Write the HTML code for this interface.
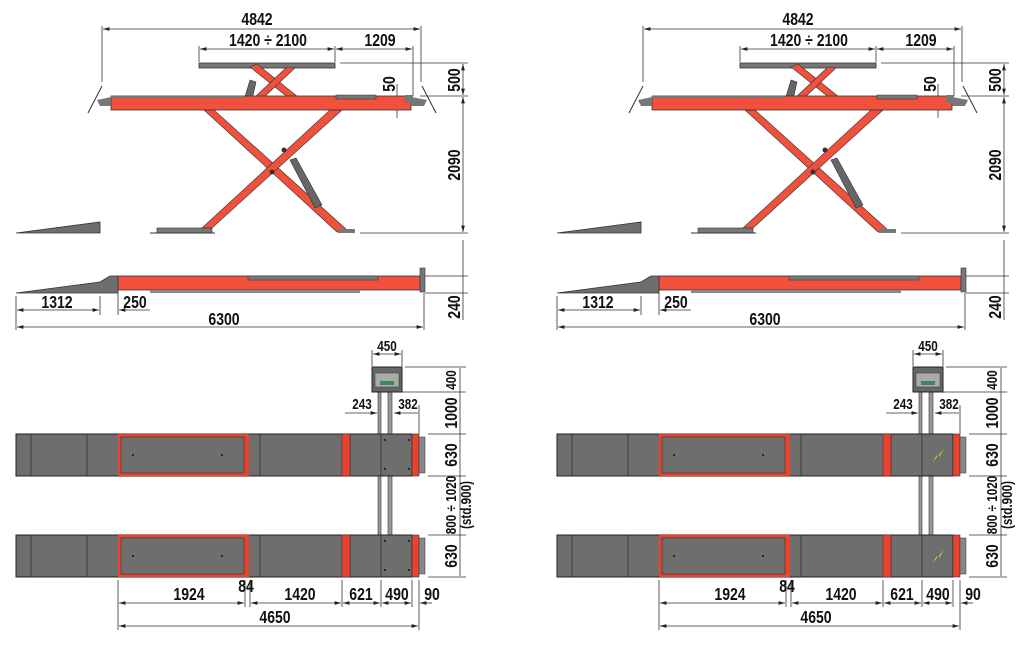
<!DOCTYPE html>
<html><head><meta charset="utf-8"><style>
html,body{margin:0;padding:0;background:#fff;}
svg{display:block}
text{font-family:"Liberation Sans Narrow","Liberation Sans",sans-serif;font-weight:bold;font-size:18px;fill:#111;transform:scaleX(.78);transform-box:fill-box;transform-origin:center;}
.s{font-size:15px}
</style></head><body>
<svg width="1022" height="646" viewBox="0 0 1022 646" xmlns="http://www.w3.org/2000/svg">
<defs>
<marker id="a" viewBox="0 0 10 6" refX="10" refY="3" markerWidth="8" markerHeight="5" orient="auto-start-reverse"><path d="M0,0L10,3L0,6z" fill="#222"/></marker>
<g id="S">
 <g stroke="#333" stroke-width="0.8" fill="none">
  <line x1="102" y1="26" x2="102" y2="82"/><line x1="421" y1="26" x2="421" y2="82"/>
  <line x1="103" y1="29" x2="420" y2="29" marker-start="url(#a)" marker-end="url(#a)"/>
  <line x1="199" y1="46" x2="199" y2="62"/><line x1="335" y1="46" x2="335" y2="62"/><line x1="413" y1="46" x2="413" y2="96"/>
  <line x1="200" y1="49" x2="334" y2="49" marker-start="url(#a)" marker-end="url(#a)"/>
  <line x1="336" y1="49" x2="412" y2="49" marker-start="url(#a)" marker-end="url(#a)"/>
  <line x1="340" y1="63" x2="468" y2="63"/><line x1="420" y1="96" x2="468" y2="96"/><line x1="360" y1="233" x2="468" y2="233"/>
  <line x1="463" y1="64" x2="463" y2="95" marker-start="url(#a)" marker-end="url(#a)"/>
  <line x1="463" y1="97" x2="463" y2="232" marker-start="url(#a)" marker-end="url(#a)"/>
  <line x1="397" y1="84" x2="397" y2="118"/>
  <line x1="425" y1="276" x2="468" y2="276"/><line x1="425" y1="293" x2="468" y2="293"/>
  <line x1="463" y1="240" x2="463" y2="320"/>
  <line x1="16" y1="296" x2="16" y2="330"/><line x1="100" y1="296" x2="100" y2="315"/><line x1="118" y1="293" x2="118" y2="315"/><line x1="424" y1="293" x2="424" y2="330"/>
  <line x1="17" y1="310" x2="99" y2="310" marker-start="url(#a)" marker-end="url(#a)"/>
  <line x1="119" y1="310" x2="150" y2="310" marker-start="url(#a)"/>
  <line x1="17" y1="327" x2="423" y2="327" marker-start="url(#a)" marker-end="url(#a)"/>
 </g>
 <path d="M16,233L100,222L100,233Z" fill="#6e6e6e" stroke="#333" stroke-width="0.8"/>
 <rect x="199" y="63" width="136" height="5" fill="#777" stroke="#333" stroke-width="0.8"/>
 <g stroke="#333" stroke-width="0.6" fill="#f0503c">
  <path d="M250,67L257,64L298,97L290,99Z"/>
  <path d="M287,67L295,68L262,99L255,97Z"/>
 </g>
 <path d="M244,100L250,80L256,82L252,100Z" fill="#666" stroke="#333" stroke-width="0.6"/>
 <g stroke="#333" stroke-width="0.6" fill="#f0503c">
  <path d="M204,110L214,110L347,230L337,232Z"/>
  <path d="M330,110L342,110L212,228L202,228Z"/>
 </g>
 <path d="M290,160L296,158L322,205L315,208Z" fill="#666" stroke="#333" stroke-width="0.6"/>
 <circle cx="284" cy="150" r="2.5" fill="#333"/><circle cx="272" cy="172" r="2.5" fill="#333"/>
 <rect x="111" y="96" width="300" height="14" fill="#f0503c" stroke="#333" stroke-width="0.8"/>
 <rect x="111" y="96" width="132" height="2" fill="#777"/>
 <rect x="336" y="95" width="40" height="4" fill="#777" stroke="#333" stroke-width="0.5"/>
 <rect x="405" y="95" width="8" height="8" fill="#777"/>
 <g stroke="#333" stroke-width="1"><line x1="88" y1="113" x2="102" y2="86"/><line x1="436" y1="113" x2="422" y2="86"/></g>
 <path d="M97,100L111,97L111,106L100,106Z" fill="#777"/><path d="M427,100L411,97L411,106L424,106Z" fill="#777"/>
 <rect x="157" y="228" width="55" height="5" fill="#777" stroke="#333" stroke-width="0.6"/>
 <rect x="338" y="229" width="17" height="4" fill="#777"/>
 <line x1="150" y1="233" x2="215" y2="233" stroke="#333"/>
 <path d="M16,293L100,282L110,276L118,276L118,293Z" fill="#6e6e6e" stroke="#333" stroke-width="0.8"/>
 <rect x="118" y="276" width="302" height="14" fill="#f0503c" stroke="#333" stroke-width="0.8"/>
 <rect x="248" y="276" width="130" height="4" fill="#777" stroke="#333" stroke-width="0.5"/>
 <rect x="150" y="290" width="210" height="3" fill="#888"/>
 <rect x="420" y="268" width="5" height="24" fill="#777" stroke="#333" stroke-width="0.6"/>
 <g fill="#999" stroke="#333" stroke-width="0.6">
  <rect x="378" y="392" width="3" height="143"/><rect x="388" y="392" width="4" height="143"/>
 </g>
 <rect x="372" y="367" width="30" height="25" fill="#666" stroke="#222"/>
 <rect x="375" y="373" width="24" height="14" fill="#aaa" stroke="#333" stroke-width="0.5"/>
 <rect x="380" y="381" width="14" height="4" fill="#3a8a5a"/>
 <g stroke="#333" stroke-width="0.8" fill="none">
  <line x1="372" y1="350" x2="372" y2="366"/><line x1="402" y1="350" x2="402" y2="366"/>
  <line x1="373" y1="354" x2="401" y2="354" marker-start="url(#a)" marker-end="url(#a)"/>
  <line x1="405" y1="367" x2="466" y2="367"/><line x1="402" y1="392" x2="466" y2="392"/>
  <line x1="428" y1="434" x2="466" y2="434"/><line x1="428" y1="476" x2="466" y2="476"/>
  <line x1="428" y1="535" x2="466" y2="535"/><line x1="428" y1="577" x2="466" y2="577"/>
  <line x1="460" y1="368" x2="460" y2="576"/>
  <line x1="345" y1="413" x2="377" y2="413" marker-end="url(#a)"/>
  <line x1="394" y1="413" x2="418" y2="413" marker-start="url(#a)"/>
  <line x1="419" y1="405" x2="419" y2="434"/>
  <line x1="118" y1="580" x2="118" y2="630"/><line x1="245" y1="580" x2="245" y2="607"/><line x1="250" y1="580" x2="250" y2="607"/>
  <line x1="342" y1="580" x2="342" y2="607"/><line x1="381" y1="580" x2="381" y2="607"/><line x1="412" y1="580" x2="412" y2="607"/><line x1="419" y1="580" x2="419" y2="630"/>
  <line x1="119" y1="603" x2="244" y2="603" marker-start="url(#a)" marker-end="url(#a)"/>
  <line x1="251" y1="603" x2="341" y2="603" marker-start="url(#a)" marker-end="url(#a)"/>
  <line x1="343" y1="603" x2="380" y2="603" marker-start="url(#a)" marker-end="url(#a)"/>
  <line x1="382" y1="603" x2="411" y2="603" marker-start="url(#a)" marker-end="url(#a)"/>
  <line x1="420" y1="603" x2="432" y2="603" marker-start="url(#a)"/>
  <line x1="119" y1="626" x2="418" y2="626" marker-start="url(#a)" marker-end="url(#a)"/>
 </g>
 <g id="B">
  <rect x="16" y="434" width="396" height="42" fill="#6e6e6e" stroke="#222"/>
  <g stroke="#333" stroke-width="0.8"><line x1="31" y1="434" x2="31" y2="476"/><line x1="87" y1="434" x2="87" y2="476"/><line x1="260" y1="434" x2="260" y2="476"/><line x1="350" y1="434" x2="350" y2="476"/><line x1="381" y1="434" x2="381" y2="476"/></g>
  <rect x="118" y="434" width="130" height="42" fill="#e8432f"/>
  <rect x="121" y="437" width="123" height="36" fill="#6e6e6e" stroke="#333" stroke-width="0.6"/>
  <rect x="246" y="434" width="3" height="42" fill="#e8432f"/>
  <rect x="342" y="434" width="8" height="42" fill="#e8432f" stroke="#333" stroke-width="0.5"/>
  <rect x="412" y="434" width="7" height="42" fill="#e8432f" stroke="#333" stroke-width="0.6"/>
  <rect x="419" y="437" width="6" height="36" fill="#888" stroke="#333" stroke-width="0.5"/>
  <circle cx="133" cy="455" r="1" fill="#111"/><circle cx="222" cy="455" r="1" fill="#111"/>
 </g>
 <use href="#B" y="101"/>
</g>
</defs>

<use href="#S"/>
<use href="#S" x="541"/>
<g fill="#111"><circle cx="385" cy="440" r="1"/><circle cx="409" cy="440" r="1"/><circle cx="385" cy="469" r="1"/><circle cx="409" cy="469" r="1"/>
<circle cx="385" cy="541" r="1"/><circle cx="409" cy="541" r="1"/><circle cx="385" cy="570" r="1"/><circle cx="409" cy="570" r="1"/></g>
<g fill="#f5e63a" stroke="#555" stroke-width="0.4">
<path d="M931,464L939,455L938,459L946,446L937,457L938,453Z"/>
<path d="M931,565L939,556L938,560L946,547L937,558L938,554Z"/>
</g>

<g text-anchor="middle">
<text x="257" y="25">4842</text>
<text x="268" y="46">1420 ÷ 2100</text>
<text x="380" y="46">1209</text>
<text x="57" y="308">1312</text>
<text x="135" y="308">250</text>
<text x="224" y="325">6300</text>
<text x="387" y="351" class="s">450</text>
<text x="362" y="409" class="s">243</text>
<text x="408" y="409" class="s">382</text>
<text x="189" y="600">1924</text>
<text x="246" y="592">84</text>
<text x="300" y="600">1420</text>
<text x="361" y="600">621</text>
<text x="397" y="600">490</text>
<text x="432" y="600">90</text>
<text x="275" y="623">4650</text>
<g transform="translate(395,84) rotate(-90)"><text>50</text></g>
<g transform="translate(460,80) rotate(-90)"><text>500</text></g>
<g transform="translate(460,165) rotate(-90)"><text>2090</text></g>
<g transform="translate(460,307) rotate(-90)"><text>240</text></g>
<g transform="translate(456,380) rotate(-90)"><text class="s">400</text></g>
<g transform="translate(457,413) rotate(-90)"><text>1000</text></g>
<g transform="translate(457,455) rotate(-90)"><text>630</text></g>
<g transform="translate(456,505) rotate(-90)"><text class="s">800 ÷ 1020</text></g>
<g transform="translate(471,505) rotate(-90)"><text class="s">(std.900)</text></g>
<g transform="translate(457,556) rotate(-90)"><text>630</text></g>
</g>
<g text-anchor="middle">
<text x="798" y="25">4842</text>
<text x="809" y="46">1420 ÷ 2100</text>
<text x="921" y="46">1209</text>
<text x="598" y="308">1312</text>
<text x="676" y="308">250</text>
<text x="765" y="325">6300</text>
<text x="928" y="351" class="s">450</text>
<text x="903" y="409" class="s">243</text>
<text x="949" y="409" class="s">382</text>
<text x="730" y="600">1924</text>
<text x="787" y="592">84</text>
<text x="841" y="600">1420</text>
<text x="902" y="600">621</text>
<text x="938" y="600">490</text>
<text x="973" y="600">90</text>
<text x="816" y="623">4650</text>
<g transform="translate(936,84) rotate(-90)"><text>50</text></g>
<g transform="translate(1001,80) rotate(-90)"><text>500</text></g>
<g transform="translate(1001,165) rotate(-90)"><text>2090</text></g>
<g transform="translate(1001,307) rotate(-90)"><text>240</text></g>
<g transform="translate(997,380) rotate(-90)"><text class="s">400</text></g>
<g transform="translate(998,413) rotate(-90)"><text>1000</text></g>
<g transform="translate(998,455) rotate(-90)"><text>630</text></g>
<g transform="translate(997,505) rotate(-90)"><text class="s">800 ÷ 1020</text></g>
<g transform="translate(1012,505) rotate(-90)"><text class="s">(std.900)</text></g>
<g transform="translate(998,556) rotate(-90)"><text>630</text></g>
</g>
</svg>
</body></html>
